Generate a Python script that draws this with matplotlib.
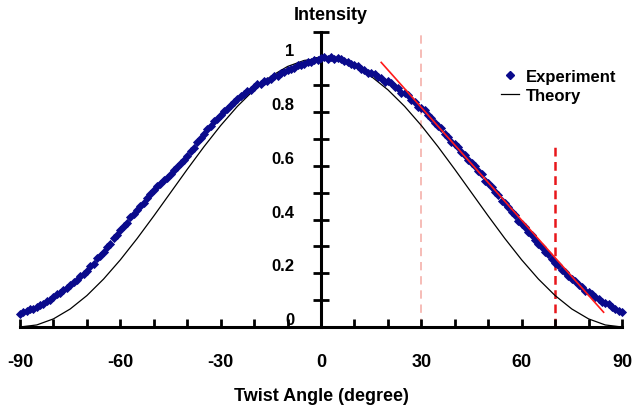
import numpy as np
import matplotlib
matplotlib.use("Agg")
import matplotlib.pyplot as plt
from matplotlib.ticker import MultipleLocator, FixedLocator
from matplotlib.lines import Line2D

plt.rcParams['font.family'] = ['Liberation Sans', 'DejaVu Sans']
plt.rcParams['font.weight'] = 'bold'

# ---------------- data ----------------
exp_angle = list(range(-90, 91))
exp_intensity = [
    0.050, 0.057, 0.058, 0.066, 0.068,
    0.075, 0.081, 0.087, 0.097, 0.101,
    0.110, 0.121, 0.126, 0.138, 0.144,
    0.155, 0.168, 0.175, 0.190, 0.197,
    0.210, 0.226, 0.236, 0.255, 0.264,
    0.280, 0.298, 0.310, 0.331, 0.342,
    0.360, 0.377, 0.389, 0.408, 0.419,
    0.435, 0.452, 0.463, 0.482, 0.494,
    0.510, 0.524, 0.531, 0.547, 0.556,
    0.570, 0.585, 0.594, 0.612, 0.620,
    0.635, 0.655, 0.668, 0.690, 0.702,
    0.720, 0.736, 0.747, 0.765, 0.774,
    0.790, 0.804, 0.812, 0.828, 0.836,
    0.850, 0.861, 0.866, 0.880, 0.884,
    0.895, 0.903, 0.904, 0.915, 0.917,
    0.925, 0.933, 0.935, 0.946, 0.948,
    0.955, 0.962, 0.964, 0.975, 0.974,
    0.980, 0.987, 0.986, 0.995, 0.993,
    1.000, 1.004, 0.997, 1.006, 0.999,
    1.000, 0.997, 0.989, 0.987, 0.978,
    0.975, 0.972, 0.961, 0.958, 0.947,
    0.945, 0.942, 0.931, 0.926, 0.913,
    0.915, 0.909, 0.894, 0.888, 0.872,
    0.870, 0.862, 0.845, 0.837, 0.820,
    0.815, 0.806, 0.788, 0.779, 0.760,
    0.750, 0.740, 0.720, 0.709, 0.688,
    0.680, 0.669, 0.651, 0.641, 0.620,
    0.610, 0.598, 0.579, 0.568, 0.545,
    0.535, 0.523, 0.503, 0.493, 0.470,
    0.460, 0.448, 0.428, 0.418, 0.393,
    0.385, 0.373, 0.355, 0.343, 0.322,
    0.310, 0.299, 0.280, 0.270, 0.252,
    0.240, 0.230, 0.214, 0.205, 0.188,
    0.180, 0.171, 0.157, 0.149, 0.135,
    0.130, 0.124, 0.111, 0.105, 0.093,
    0.090, 0.085, 0.073, 0.068, 0.058,
    0.055,
]

theory_angle = list(range(-90, 91, 5))
theory_intensity = [
    0.0000, 0.0076, 0.0302, 0.0670, 0.1170, 0.1786, 0.2500, 0.3290, 0.4132,
    0.5000, 0.5868, 0.6710, 0.7500, 0.8214, 0.8830, 0.9330, 0.9698, 0.9924,
    1.0000,
    0.9924, 0.9698, 0.9330, 0.8830, 0.8214, 0.7500, 0.6710, 0.5868, 0.5000,
    0.4132, 0.3290, 0.2500, 0.1786, 0.1170, 0.0670, 0.0302, 0.0076, 0.0000,
]

fit_x = [18.0, 84.5]
fit_y = [0.985, 0.055]

mark_x = [30, 70]
mark_top = [1.10, 0.69]

x_ticks = [-90, -60, -30, 0, 30, 60, 90]
y_ticks = [0, 0.2, 0.4, 0.6, 0.8, 1.0]
y_tick_labels = ['0', '0.2', '0.4', '0.6', '0.8', '1']

# ---------------- figure ----------------
fig = plt.figure(figsize=(6.34, 4.06), dpi=100)
ax = fig.add_axes([20/634, 78/406, 602/634, 295.5/406])
ax.set_xlim(-90, 90)
ax.set_ylim(0, 1.1)

navy = '#0a0a8c'

# vertical marker lines
ax.plot([mark_x[0], mark_x[0]], [0, mark_top[0]], color='#f5b0aa', lw=1.2,
        dashes=(5, 3.5), zorder=1)
ax.plot([mark_x[1], mark_x[1]], [0, mark_top[1]], color='#e8161b', lw=1.8,
        dashes=(3.5, 2.2), zorder=1)

# theory
ax.plot(theory_angle, theory_intensity, color='black', lw=0.9, zorder=2)
# experiment
ax.plot(exp_angle, exp_intensity, linestyle='none', marker='D', ms=3.9,
        mew=0.6, mec=navy, mfc=navy, color=navy, zorder=3, clip_on=False)
# fit line
ax.plot(fit_x, fit_y, color='#ff1a1a', lw=1.2, zorder=4)

# spines
for s in ['top', 'right']:
    ax.spines[s].set_visible(False)
ax.spines['left'].set_position(('data', 0))
ax.spines['bottom'].set_position(('data', 0))
ax.spines['left'].set_linewidth(2.2)
ax.spines['bottom'].set_linewidth(2.2)
ax.spines['left'].set_bounds(0, 1.1)

ax.xaxis.set_major_locator(FixedLocator(x_ticks))
ax.xaxis.set_minor_locator(MultipleLocator(10))
ax.set_xticklabels([str(v) for v in x_ticks])
ax.tick_params(axis='x', which='both', direction='in', length=5.5, width=2,
               pad=19, labelsize=13)

ax.yaxis.set_major_locator(FixedLocator(y_ticks))
ax.yaxis.set_minor_locator(FixedLocator([0.1, 0.3, 0.5, 0.7, 0.9, 1.1]))
ax.set_yticklabels(y_tick_labels)
ax.tick_params(axis='y', which='both', direction='inout', length=12, width=2,
               pad=13, labelsize=12)
for lbl in ax.get_yticklabels():
    lbl.set_verticalalignment('bottom')

for lbl in ax.get_xticklabels() + ax.get_yticklabels():
    lbl.set_fontweight('bold')

ax.set_xlabel('Twist Angle (degree)', fontsize=13, fontweight='bold', labelpad=8)
ax.xaxis.set_label_coords((321 - 20) / 602, (328 - 388) / 295.5)
ax.set_ylabel('Intensity', fontsize=13, fontweight='bold', rotation=0,
              ha='center', va='center')
ax.yaxis.set_label_coords((331 - 20) / 602, (328 - 15) / 295.5)

handles = [
    Line2D([], [], linestyle='none', marker='D', ms=3.6, mfc=navy, mec=navy),
    Line2D([], [], color='black', lw=0.9),
]
leg = ax.legend(handles, ['Experiment', 'Theory'], loc='upper left',
                bbox_to_anchor=(501/634, 1 - 70/406), bbox_transform=fig.transFigure,
                frameon=False, fontsize=12, handlelength=1.08, handletextpad=0.42,
                labelspacing=0.25, borderpad=0, borderaxespad=0)
for t in leg.get_texts():
    t.set_fontweight('bold')

fig.savefig('out.png', dpi=100)
